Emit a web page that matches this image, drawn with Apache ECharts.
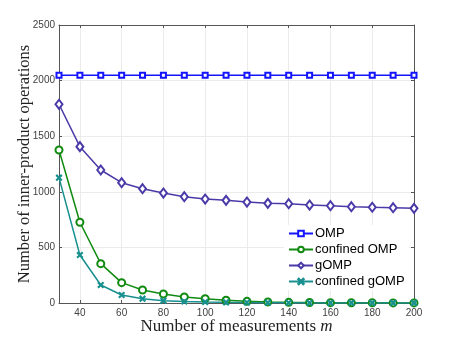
<!DOCTYPE html>
<html>
<head>
<meta charset="utf-8">
<script src="https://cdn.jsdelivr.net/npm/echarts@6/dist/echarts.min.js"></script>
<style>
  html, body { margin: 0; padding: 0; background: #fff; }
  #main { width: 458px; height: 341px; }
</style>
</head>
<body>
<div id="main"></div>
<script>
// number of measurements m
const measurements = [30, 40, 50, 60, 70, 80, 90, 100, 110, 120, 130, 140, 150, 160, 170, 180, 190, 200];
// inner-product operations per method
const ompOps = [2048, 2048, 2048, 2048, 2048, 2048, 2048, 2048, 2048, 2048, 2048, 2048, 2048, 2048, 2048, 2048, 2048, 2048];
const confinedOmpOps = [1376, 726, 354, 183, 117, 81, 54, 39, 25, 15, 10, 6, 4, 3, 2, 2, 1, 1];
const gompOps = [1787, 1406, 1196, 1082, 1028, 989, 956, 935, 923, 908, 896, 893, 881, 875, 866, 861, 857, 851];
const confinedGompOps = [1127, 432, 162, 72, 39, 21, 14, 9, 6, 4, 3, 2, 1, 1, 1, 1, 1, 1];
const xTicks = [40, 60, 80, 100, 120, 140, 160, 180, 200];

const chart = echarts.init(document.getElementById("main"));

const crossPath = "path://M0,1L1,0L5,4L9,0L10,1L6,5L10,9L9,10L5,6L1,10L0,9L4,5Z";

function pairs(ys) {
  return measurements.map((m, i) => [m, ys[i]]);
}

function mkSeries(name, ys, color, symbol, size) {
  return {
    name: name,
    type: "line",
    data: pairs(ys),
    symbol: symbol,
    symbolSize: size,
    showSymbol: true,
    lineStyle: { color: color, width: 1.5 },
    itemStyle: { color: color, borderColor: color, borderWidth: 1.5 },
    emphasis: { disabled: true },
    z: 3
  };
}

const tickLabel = { color: "#404040", fontSize: 10, fontFamily: "Liberation Sans" };

const option = {
  animation: false,
  backgroundColor: "#fff",
  grid: { left: 59, right: 44, top: 25, bottom: 38, containLabel: false, outerBoundsMode: "none" },
  legend: {
    orient: "vertical",
    left: 284,
    top: 225,
    itemWidth: 24,
    itemHeight: 7,
    itemGap: 3,
    backgroundColor: "#fff",
    padding: [2, 4, 2, 4],
    textStyle: { fontSize: 13, color: "#000", fontFamily: "Liberation Sans", padding: [0, 0, 0, -3] },
    data: ["OMP", "confined OMP", "gOMP", "confined gOMP"]
  },
  xAxis: [
    {
      type: "value",
      min: 30,
      max: 200,
      name: "{t|Number of measurements }{i|m}",
      nameLocation: "middle",
      nameGap: 15,
      nameMoveOverlap: false,
      nameTextStyle: {
        rich: {
          t: { fontSize: 17, fontFamily: "Liberation Serif", color: "#222" },
          i: { fontSize: 17, fontFamily: "Liberation Serif", fontStyle: "italic", color: "#222" }
        }
      },
      axisLine: { show: true, onZero: false, lineStyle: { color: "#555", width: 1 } },
      axisTick: { show: true, inside: true, length: 3, customValues: xTicks, lineStyle: { color: "#555" } },
      axisLabel: { ...tickLabel, margin: 5, customValues: xTicks },
      splitLine: { show: true, lineStyle: { color: "#ebebeb", width: 1 } }
    },
    {
      type: "value",
      position: "top",
      min: 30,
      max: 200,
      axisLine: { show: true, onZero: false, lineStyle: { color: "#555", width: 1 } },
      axisTick: { show: true, inside: true, length: 3, customValues: xTicks, lineStyle: { color: "#555" } },
      axisLabel: { show: false },
      splitLine: { show: false }
    }
  ],
  yAxis: [
    {
      type: "value",
      min: 0,
      max: 2500,
      interval: 500,
      name: "Number of inner-product operations",
      nameLocation: "middle",
      nameGap: 26,
      nameMoveOverlap: false,
      nameTextStyle: { fontSize: 16.5, fontFamily: "Liberation Serif", color: "#222" },
      axisLine: { show: true, onZero: false, lineStyle: { color: "#555", width: 1 } },
      axisTick: { show: true, inside: true, length: 3, lineStyle: { color: "#555" } },
      axisLabel: { ...tickLabel, margin: 4, formatter: v => String(v) },
      splitLine: { show: true, lineStyle: { color: "#ebebeb", width: 1 } }
    },
    {
      type: "value",
      position: "right",
      min: 0,
      max: 2500,
      interval: 500,
      axisLine: { show: true, onZero: false, lineStyle: { color: "#555", width: 1 } },
      axisTick: { show: true, inside: true, length: 3, lineStyle: { color: "#555" } },
      axisLabel: { show: false },
      splitLine: { show: false }
    }
  ],
  series: [
    mkSeries("OMP", ompOps, "#1414ff", "emptyRect", 5),
    mkSeries("confined OMP", confinedOmpOps, "#118a11", "emptyCircle", 7),
    mkSeries("gOMP", gompOps, "#4a3aa8", "emptyDiamond", [7, 9]),
    mkSeries("confined gOMP", confinedGompOps, "#17908f", crossPath, 5)
  ]
};

chart.setOption(option);
</script>
</body>
</html>
